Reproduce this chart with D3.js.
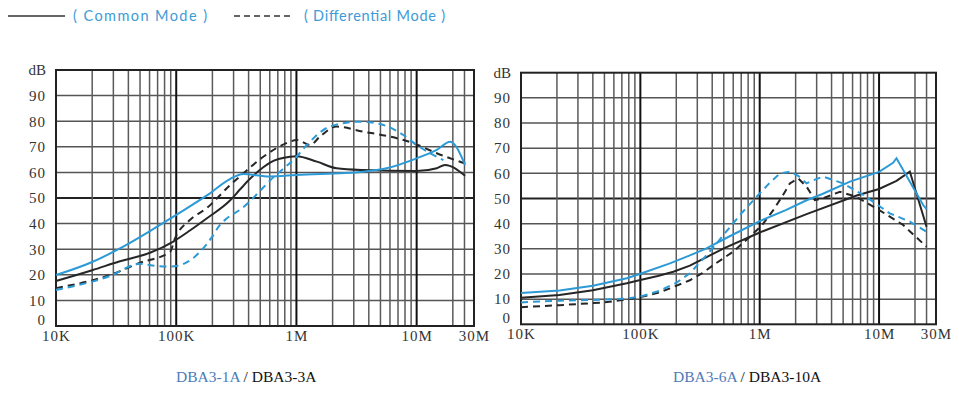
<!DOCTYPE html>
<html>
<head>
<meta charset="utf-8">
<script src="https://cdnjs.cloudflare.com/ajax/libs/d3/7.8.5/d3.min.js"></script>
<style>
  body { margin: 0; background: #fff; }
  svg { display: block; }
</style>
</head>
<body>
<div id="chart"></div>
<script>
// axis data
const yTicks = [0, 10, 20, 30, 40, 50, 60, 70, 80, 90];
const xTicks = [1e4, 1e5, 1e6, 1e7, 3e7];
const xTickLabels = ['10K', '100K', '1M', '10M', '30M'];
const decadeLines = [1e5, 1e6, 1e7];
const minorLines = [2e4, 3e4, 4e4, 5e4, 6e4, 7e4, 8e4, 9e4,
  2e5, 3e5, 4e5, 5e5, 6e5, 7e5, 8e5, 9e5,
  2e6, 3e6, 4e6, 5e6, 6e6, 7e6, 8e6, 9e6,
  2e7, 2.5e7];

// DBA3-1A / DBA3-3A  [frequency Hz, dB]
const cm1A = [[1e4, 19.9], [2e4, 25], [3.4e4, 30.3], [6e4, 37], [1e5, 43.4], [1.8e5, 51],
  [2.8e5, 57.4], [3.6e5, 59.4], [6e5, 58.4], [1e6, 59], [3.6e6, 60.3], [5.6e6, 61.6],
  [1e7, 65.5], [1.47e7, 68.8], [1.9e7, 72], [2.53e7, 62.9]];
const cm3A = [[1e4, 17.6], [2e4, 21.8], [3.4e4, 25.3], [6.05e4, 28.6], [9.46e4, 33], [1.3e5, 37.3],
  [1.79e5, 42], [2.8e5, 49], [3.42e5, 53.5], [4.11e5, 57.5], [5.3e5, 62], [6.03e5, 63.8],
  [8.85e5, 66.1], [1e6, 66.3], [1.48e6, 64.2], [2.16e6, 61.6], [3.6e6, 60.9], [1e7, 60.5],
  [1.47e7, 61.6], [1.72e7, 62.9], [2.53e7, 58.7]];
const dm1A = [[1e4, 14.1], [2.8e4, 19.5], [5e4, 24.3], [6.9e4, 23.4], [8.9e4, 23.2], [1.08e5, 23.8],
  [1.58e5, 29], [2e5, 35], [2.31e5, 39.5], [2.63e5, 42], [3.42e5, 45.5], [6.5e5, 58.3],
  [1e6, 66.1], [1.22e6, 70.7], [1.9e6, 77.9], [3.38e6, 79.8], [4.96e6, 78.9], [7.75e6, 74.6],
  [1e7, 70.7], [1.67e7, 64.8]];
const dm3A = [[1e4, 14.8], [2.8e4, 19.9], [5e4, 24.7], [8.9e4, 29], [9.77e4, 34.2], [1.3e5, 41.4],
  [1.79e5, 46], [2.8e5, 55], [3.61e5, 59.6], [5.3e5, 66.1], [8.85e5, 72], [1e6, 72.7],
  [1.3e6, 70.7], [1.57e6, 74], [2.16e6, 77.9], [3.6e6, 75.9], [6e6, 74], [9.4e6, 71.4],
  [1.47e7, 67.5], [2.53e7, 63.5]];

// DBA3-6A / DBA3-10A
const cm6A = [[1e4, 12.4], [2.1e4, 13.4], [4e4, 15.3], [7.7e4, 18.3], [1e5, 20.1], [1.77e5, 24.2],
  [2.6e5, 27.4], [3.58e5, 30.2], [5.5e5, 34.8], [1e6, 41], [1.67e6, 45.5], [2.47e6, 49.3],
  [3.35e6, 51.8], [5.7e6, 56.7], [1e7, 60.6], [1.31e7, 64.2], [1.4e7, 66], [2.34e7, 47.4],
  [2.5e7, 45.8]];
const cm10A = [[1e4, 10.6], [2.1e4, 11.6], [4e4, 13.5], [7.7e4, 16.3], [1e5, 17.6], [1.4e5, 19.2],
  [1.89e5, 20.9], [2.6e5, 23.3], [3.36e5, 26], [5e5, 30.2], [1e6, 36.5], [2.47e6, 43.8],
  [6.5e6, 51.2], [1e7, 53.8], [1.4e7, 57], [1.81e7, 60.7], [2.5e7, 38.8]];
const dm6A = [[1e4, 8.7], [2.1e4, 9.4], [5e4, 9.8], [7.7e4, 10.2], [1e5, 11], [1.46e5, 13.4],
  [2e5, 16.5], [2.6e5, 20.3], [3.59e5, 27.5], [4.5e5, 33], [5.28e5, 37], [7e5, 44],
  [9.42e5, 50.7], [1.2e6, 56], [1.48e6, 60], [1.79e6, 60.7], [2.1e6, 59], [2.47e6, 56],
  [2.9e6, 57.5], [3.4e6, 58.7], [5e6, 56], [7.4e6, 51.4], [1.23e7, 44.1], [1.81e7, 40.8],
  [2.5e7, 36.8]];
const dm10A = [[1e4, 6.8], [2.1e4, 7.6], [5e4, 8.7], [7.7e4, 9.9], [1e5, 10.8], [1.4e5, 12.5],
  [1.77e5, 14.3], [2.6e5, 17.5], [3.3e5, 20.3], [4.08e5, 23.5], [6e5, 28.9], [8.28e5, 34.8],
  [1.05e6, 39.5], [1.3e6, 45.4], [1.55e6, 51], [1.79e6, 56], [2.1e6, 58], [2.47e6, 54.7],
  [2.9e6, 49.4], [3.4e6, 50.1], [4.7e6, 52.7], [6.4e6, 50.7], [9.5e6, 46.1], [1.59e7, 39.5],
  [2.5e7, 30.8]];

const BLUE = '#2b9ad6';
const INK = '#262626';

const svg = d3.select('#chart').append('svg')
  .attr('width', 959)
  .attr('height', 393);

svg.append('rect').attr('width', 959).attr('height', 393).attr('fill', '#fff');

// legend
const legend = svg.append('g');
legend.append('line')
  .attr('x1', 8).attr('x2', 65).attr('y1', 16).attr('y2', 16)
  .attr('stroke', '#333').attr('stroke-width', 1.5);
legend.append('text')
  .attr('x', 73).attr('y', 21)
  .attr('font-family', 'Lato, "Open Sans", sans-serif')
  .attr('font-size', 14.5)
  .attr('fill', '#3d9bd6')
  .attr('textLength', 134)
  .text('( Common Mode )');
legend.append('line')
  .attr('x1', 234).attr('x2', 292).attr('y1', 16).attr('y2', 16)
  .attr('stroke', '#333').attr('stroke-width', 1.5)
  .attr('stroke-dasharray', '6,4');
legend.append('text')
  .attr('x', 304).attr('y', 21)
  .attr('font-family', 'Lato, "Open Sans", sans-serif')
  .attr('font-size', 14.5)
  .attr('fill', '#3d9bd6')
  .attr('textLength', 141)
  .text('( Differential Mode )');

/**
 * draws one chart panel: grid, frame, tick labels, four curves, caption
 */
function drawChart(opts) {
  const x = d3.scaleLog().domain([1e4, 3e7]).range([opts.left, opts.right]);
  const y = d3.scaleLinear().domain([0, 100]).range([opts.bottom, opts.top]);
  const g = svg.append('g');

  // horizontal grid
  g.selectAll('.hgrid')
    .data(yTicks.slice(1))
    .enter().append('line')
    .attr('x1', opts.left).attr('x2', opts.right)
    .attr('y1', d => y(d)).attr('y2', d => y(d))
    .attr('stroke', d => d === 50 ? '#222' : '#555')
    .attr('stroke-width', d => d === 50 ? 2 : 1.5);

  // vertical grid
  g.selectAll('.vminor')
    .data(minorLines)
    .enter().append('line')
    .attr('x1', d => x(d)).attr('x2', d => x(d))
    .attr('y1', opts.top).attr('y2', opts.bottom)
    .attr('stroke', '#5a5a5a')
    .attr('stroke-width', 1.5);
  g.selectAll('.vmajor')
    .data(decadeLines)
    .enter().append('line')
    .attr('x1', d => x(d)).attr('x2', d => x(d))
    .attr('y1', opts.top).attr('y2', opts.bottom)
    .attr('stroke', '#111')
    .attr('stroke-width', 2);

  g.append('rect')
    .attr('x', opts.left).attr('y', opts.top)
    .attr('width', opts.right - opts.left).attr('height', opts.bottom - opts.top)
    .attr('fill', 'none').attr('stroke', '#222').attr('stroke-width', 2);

  // axes
  const yAxis = g.append('g')
    .attr('transform', 'translate(' + opts.left + ',0)')
    .call(d3.axisLeft(y).tickValues(yTicks).tickSize(0).tickPadding(10));
  const xAxis = g.append('g')
    .attr('transform', 'translate(0,' + opts.bottom + ')')
    .call(d3.axisBottom(x).tickValues(xTicks).tickFormat((d, i) => xTickLabels[i])
      .tickSize(0).tickPadding(4));
  [yAxis, xAxis].forEach(a => {
    a.select('.domain').remove();
    a.selectAll('text')
      .attr('font-family', '"Liberation Serif", "DejaVu Serif", serif')
      .attr('font-size', 15)
      .attr('letter-spacing', 1)
      .attr('fill', '#333');
  });
  yAxis.selectAll('.tick')
    .filter(d => d === 0)
    .select('text').attr('dy', '-0.1em');
  g.append('text')
    .attr('x', opts.left - 10).attr('y', y(100))
    .attr('dy', '0.32em')
    .attr('text-anchor', 'end')
    .attr('font-family', '"Liberation Serif", "DejaVu Serif", serif')
    .attr('font-size', 15)
    .attr('fill', '#333')
    .text('dB');

  // curves
  const line = d3.line()
    .x(d => x(d[0]))
    .y(d => y(d[1]))
    .curve(opts.curve);
  opts.series.forEach(s => {
    g.append('path')
      .datum(s.data)
      .attr('d', line)
      .attr('fill', 'none')
      .attr('stroke', s.color)
      .attr('stroke-width', 2)
      .attr('stroke-dasharray', s.dashed ? '7,5' : null);
  });

  // caption
  const cap = g.append('text')
    .attr('x', opts.captionX).attr('y', 382)
    .attr('font-family', '"Liberation Serif", "Times New Roman", serif')
    .attr('font-size', 15.5);
  cap.append('tspan').attr('fill', '#4c7bb8').text(opts.names[0]);
  cap.append('tspan').attr('fill', '#111').text(' / ' + opts.names[1]);
}

drawChart({
  left: 56, right: 474, top: 70, bottom: 326,
  curve: d3.curveMonotoneX,
  captionX: 176,
  names: ['DBA3-1A', 'DBA3-3A'],
  series: [
    {data: dm3A, color: INK, dashed: true},
    {data: cm3A, color: INK, dashed: false},
    {data: dm1A, color: BLUE, dashed: true},
    {data: cm1A, color: BLUE, dashed: false}
  ]
});

drawChart({
  left: 521, right: 936, top: 72.7, bottom: 324.3,
  curve: d3.curveLinear,
  captionX: 673,
  names: ['DBA3-6A', 'DBA3-10A'],
  series: [
    {data: dm10A, color: INK, dashed: true},
    {data: cm10A, color: INK, dashed: false},
    {data: dm6A, color: BLUE, dashed: true},
    {data: cm6A, color: BLUE, dashed: false}
  ]
});
</script>
</body>
</html>
